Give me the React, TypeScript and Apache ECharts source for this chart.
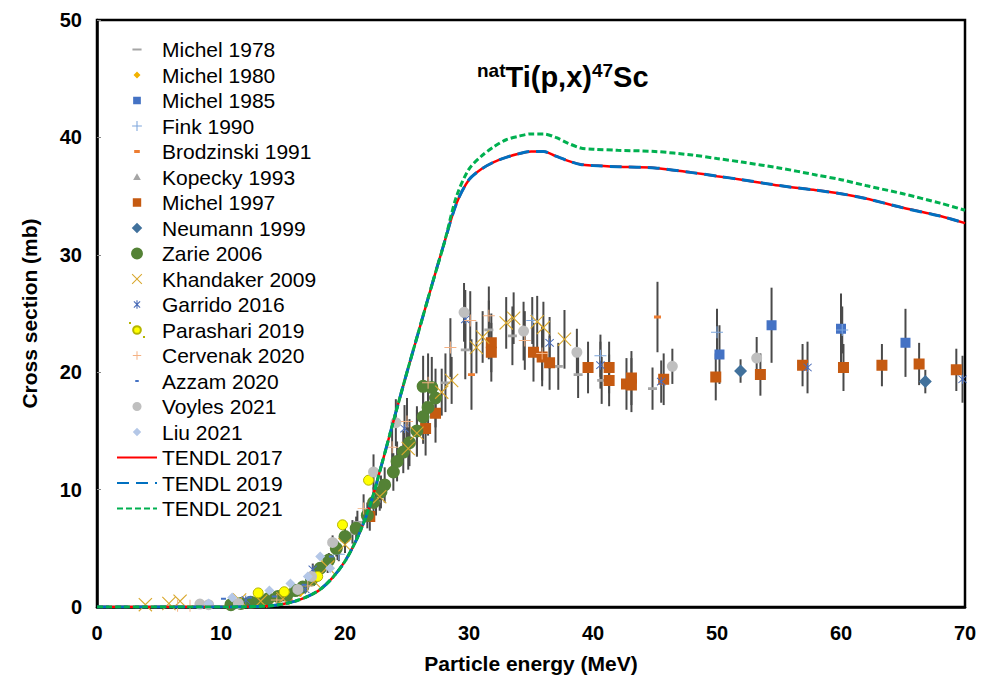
import React, { useEffect, useRef } from "react";
import * as echarts from "echarts";

const FONT = '"Liberation Sans", Arial, Helvetica, sans-serif';

// ---- Data: [energy MeV, cross section mb, error mb] ----
const michel1978 = [[21.0, 7.2, 1.0], [22.5, 9.0, 1.2], [28.1, 19.1, 2.5], [29.7, 21.9, 2.5], [31.6, 23.6, 2.5], [33.5, 23.1, 2.5], [37.2, 20.5, 2.0], [38.8, 19.8, 2.0], [40.7, 19.3, 2.0], [44.8, 18.6, 1.8]];
const michel1980 = [[12.6, 0.5, 0.2], [14.2, 0.7, 0.2], [15.3, 0.85, 0.3], [16.4, 1.2, 0.3]];
const michel1985 = [[50.2, 21.5, 2.5], [54.4, 24.0, 3.2], [60.0, 23.7, 3.0], [65.2, 22.5, 2.9]];
const fink1990 = [[19.5, 4.5, 0.6], [35.1, 24.4, 2.0], [40.6, 21.4, 1.8], [50.0, 23.4, 2.0], [60.1, 23.6, 2.0]];
const brodzinski1991 = [[15.5, 0.6, 0.2], [30.2, 19.8, 3.0], [45.2, 24.7, 3.0]];
const kopecky1993 = [[17.8, 2.8, 0.5], [19.4, 4.8, 0.8], [20.6, 6.4, 1.0]];
const michel1997 = [[22.0, 7.7, 1.2], [26.5, 15.2, 2.3], [27.3, 16.5, 2.5], [31.8, 22.5, 2.5], [31.8, 21.7, 2.5], [35.2, 21.7, 2.5], [35.9, 21.3, 2.5], [36.5, 20.8, 2.3], [39.6, 20.4, 2.2], [41.3, 20.4, 2.2], [41.3, 19.3, 2.2], [42.7, 19.0, 2.2], [43.1, 19.5, 2.3], [43.1, 18.9, 2.3], [45.7, 19.4, 2.2], [49.9, 19.6, 2.0], [53.5, 19.8, 1.8], [56.9, 20.6, 1.8], [60.2, 20.4, 2.0], [63.3, 20.6, 1.8], [66.3, 20.7, 1.8], [69.3, 20.2, 1.8]];
const neumann1999 = [[51.9, 20.1, 1.0], [66.8, 19.2, 1.0]];
const zarie2006 = [[10.8, 0.2, 0], [11.6, 0.3, 0], [12.4, 0.4, 0.1], [13.1, 0.5, 0.1], [13.8, 0.7, 0.2], [14.6, 0.9, 0.2], [15.3, 1.0, 0.2], [16.0, 1.4, 0.3], [16.6, 1.7, 0.3], [17.3, 2.3, 0.4], [18.0, 3.3, 0.5], [18.7, 4.0, 0.6], [19.3, 5.0, 0.7], [20.0, 6.0, 0.8], [20.9, 6.7, 1.0], [21.8, 7.8, 1.1], [22.3, 8.9, 1.3], [22.9, 9.8, 1.4], [23.2, 10.4, 1.5], [23.9, 11.5, 1.6], [24.2, 12.4, 1.7], [24.7, 13.2, 1.8], [25.2, 14.0, 2.0], [25.8, 15.0, 2.1], [26.3, 16.2, 2.3], [26.7, 17.0, 2.4], [26.3, 18.8, 2.6], [27.0, 18.7, 2.6], [27.3, 17.8, 2.5]];
const khandaker2009 = [[3.9, 0.2, 0], [5.8, 0.3, 0], [6.7, 0.5, 0], [11.5, 0.6, 0.1], [13.2, 0.5, 0.1], [15.0, 0.7, 0.2], [17.5, 2.2, 0.4], [18.6, 3.4, 0.5], [20.0, 5.3, 0.7], [22.8, 9.4, 1.2], [25.1, 13.5, 1.8], [25.8, 14.8, 2.0], [27.8, 18.3, 2.0], [28.6, 19.3, 2.0], [30.6, 22.1, 2.2], [31.1, 23.0, 2.2], [33.0, 24.2, 2.2], [33.6, 24.6, 2.2], [35.5, 24.3, 2.2], [36.0, 23.8, 2.2], [37.7, 22.8, 2.5]];
const garrido2016 = [[12.0, 0.6, 0.2], [16.8, 1.5, 0.3], [17.4, 3.2, 0.5], [24.8, 15.2, 2.0], [29.7, 24.5, 2.5], [36.5, 22.5, 2.2], [40.6, 20.6, 2.0], [45.5, 19.2, 1.8], [57.3, 20.4, 2.2], [69.8, 19.4, 2.0]];
const parashari2019 = [[13.0, 1.2, 0], [15.1, 1.3, 0], [17.8, 2.6, 0], [19.8, 7.0, 0], [21.9, 10.8, 0]];
const cervenak2020 = [[6.5, 0.1, 0], [7.5, 0.1, 0], [14.5, 0.6, 0.1], [17.0, 1.8, 0.3], [21.5, 8.4, 1.2], [23.8, 13.6, 1.8], [25.0, 15.8, 2.0], [26.7, 19.1, 2.5], [28.5, 22.1, 2.5], [30.1, 24.4, 2.5], [31.6, 24.8, 2.5], [34.5, 22.7, 2.5], [35.9, 21.6, 2.3]];
const azzam2020 = [[10.2, 0.7, 0], [12.3, 0.8, 0], [14.3, 0.9, 0], [16.7, 1.9, 0], [18.9, 4.3, 0]];
const voyles2021 = [[8.3, 0.25, 0], [9.0, 0.2, 0], [11.4, 0.3, 0], [16.2, 1.5, 0.2], [17.3, 2.6, 0.3], [19.0, 5.5, 0.6], [22.3, 11.5, 1.5], [24.1, 15.7, 2.0], [29.6, 25.1, 2.5], [34.4, 23.5, 2.5], [38.7, 21.7, 2.0], [46.4, 20.5, 1.5], [53.2, 21.2, 1.8]];
const liu2021 = [[9.0, 0.3, 0], [10.9, 0.8, 0], [13.9, 1.4, 0], [15.6, 2.0, 0], [17.0, 2.6, 0], [18.0, 4.3, 0], [18.8, 3.3, 0]];

const tendlEnergy = [0, 2, 4, 6, 8, 10, 12, 13, 14, 15, 16, 17, 18, 19, 20, 21, 22, 23, 24, 25, 26, 27, 28, 29, 30, 31, 32, 33, 34, 35, 36, 37, 38, 39, 40, 42, 45, 48, 50, 52, 55, 58, 60, 62, 65, 68, 70];
const tendl2017 = [0, 0, 0, 0, 0, 0, 0.02, 0.05, 0.1, 0.25, 0.5, 0.9, 1.5, 2.5, 3.9, 5.9, 8.6, 12.3, 16.2, 20.0, 23.7, 27.4, 31.0, 34.4, 36.4, 37.3, 37.9, 38.3, 38.6, 38.8, 38.8, 38.4, 38.0, 37.7, 37.6, 37.5, 37.4, 37.0, 36.7, 36.4, 35.9, 35.5, 35.2, 34.8, 34.0, 33.3, 32.7];
const tendl2019 = [0, 0, 0, 0, 0, 0, 0.02, 0.05, 0.1, 0.25, 0.5, 0.9, 1.5, 2.5, 3.9, 5.9, 8.6, 12.3, 16.2, 20.0, 23.7, 27.4, 31.0, 34.4, 36.4, 37.3, 37.9, 38.3, 38.6, 38.8, 38.8, 38.4, 38.0, 37.7, 37.6, 37.5, 37.4, 37.0, 36.7, 36.4, 35.9, 35.5, 35.2, 34.8, 34.0, 33.3, 32.7];
const tendl2021 = [0, 0, 0, 0, 0, 0, 0.02, 0.05, 0.1, 0.25, 0.5, 0.9, 1.5, 2.5, 3.9, 5.9, 8.6, 12.3, 16.2, 20.0, 23.7, 27.4, 31.0, 35.0, 37.3, 38.4, 39.2, 39.8, 40.1, 40.3, 40.3, 40.0, 39.5, 39.1, 39.0, 38.9, 38.8, 38.5, 38.2, 37.9, 37.4, 36.8, 36.4, 35.9, 35.2, 34.4, 33.8];

const xTicks = { min: 0, max: 70, interval: 10 };
const yTicks = { min: 0, max: 50, interval: 10 };

// ---- symbols (20x20 unit box, with tiny corner specks to pin the box) ----
const SPECK = "M0,0h0.01v0.01h-0.01zM19.99,19.99h0.01v0.01h-0.01z";
function shape(kind: string, u: number, t = 1.6): string {
  const c = 10;
  const h = u / 2;
  let d = "";
  if (kind === "square") d = `M${c - h},${c - h}h${u}v${u}h${-u}z`;
  else if (kind === "diamond") d = `M${c},${c - h}L${c + h},${c}L${c},${c + h}L${c - h},${c}Z`;
  else if (kind === "triangle") d = `M${c},${c - h}L${c + h},${c + h * 0.8}L${c - h},${c + h * 0.8}Z`;
  else if (kind === "circle") d = `M${c - h},${c}A${h},${h} 0 1,0 ${c + h},${c}A${h},${h} 0 1,0 ${c - h},${c}Z`;
  else if (kind === "dash") d = `M${c - h},${c - t / 2}h${u}v${t}h${-u}z`;
  else if (kind === "plus") {
    const a = t / 2;
    d = `M${c - a},${c - h}H${c + a}V${c - a}H${c + h}V${c + a}H${c + a}V${c + h}H${c - a}V${c + a}H${c - h}V${c - a}H${c - a}Z`;
  } else if (kind === "x" || kind === "star") {
    const e = t * 0.707;
    d = `M${c - h},${c - h + e}L${c - h + e},${c - h}L${c},${c - e}L${c + h - e},${c - h}L${c + h},${c - h + e}L${c + e},${c}L${c + h},${c + h - e}L${c + h - e},${c + h}L${c},${c + e}L${c - h + e},${c + h}L${c - h},${c + h - e}L${c - e},${c}Z`;
    if (kind === "star") {
      const a = t / 2;
      d += `M${c - a},${c - h - 1}H${c + a}V${c + h + 1}H${c - a}Z`;
    }
  }
  return "path://" + SPECK + d;
}

const scatterDefs = [
  { name: "Michel 1978", data: michel1978, kind: "dash", color: "#a5a5a5", size: 9, t: 6, lu: 13, lt: 3 },
  { name: "Michel 1980", data: michel1980, kind: "diamond", color: "#f2b200", size: 8, t: 0, lu: 10, lt: 0 },
  { name: "Michel 1985", data: michel1985, kind: "square", color: "#4472c4", size: 10, t: 0, lu: 11, lt: 0 },
  { name: "Fink 1990", data: fink1990, kind: "plus", color: "#7ea6dc", size: 12, t: 1.8, lu: 14, lt: 1.5 },
  { name: "Brodzinski 1991", data: brodzinski1991, kind: "dash", color: "#ed7d31", size: 7, t: 8, lu: 8, lt: 4 },
  { name: "Kopecky 1993", data: kopecky1993, kind: "triangle", color: "#a5a5a5", size: 8, t: 0, lu: 11, lt: 0 },
  { name: "Michel 1997", data: michel1997, kind: "square", color: "#c55a11", size: 11, t: 0, lu: 12, lt: 0 },
  { name: "Neumann 1999", data: neumann1999, kind: "diamond", color: "#41719c", size: 13, t: 0, lu: 15, lt: 0 },
  { name: "Zarie 2006", data: zarie2006, kind: "circle", color: "#548235", size: 13, t: 0, lu: 17, lt: 0 },
  { name: "Khandaker 2009", data: khandaker2009, kind: "x", color: "#d9a82e", size: 14, t: 1.6, lu: 15, lt: 1.5 },
  { name: "Garrido 2016", data: garrido2016, kind: "star", color: "#4a6cb8", size: 9, t: 2.2, lu: 10, lt: 1.6 },
  { name: "Parashari 2019", data: parashari2019, kind: "circle", color: "#ffff00", size: 10, t: 0, lu: 11, lt: 0, border: "#b5b500" },
  { name: "Cervenak 2020", data: cervenak2020, kind: "plus", color: "#f4b183", size: 12, t: 1.6, lu: 12, lt: 1.4 },
  { name: "Azzam 2020", data: azzam2020, kind: "dash", color: "#4472c4", size: 5, t: 8, lu: 5, lt: 3 },
  { name: "Voyles 2021", data: voyles2021, kind: "circle", color: "#bfbfbf", size: 11, t: 0, lu: 13, lt: 0 },
  { name: "Liu 2021", data: liu2021, kind: "diamond", color: "#b4c7e7", size: 10, t: 0, lu: 12, lt: 0 },
];

const lineDefs = [
  { name: "TENDL 2017", values: tendl2017, color: "#ff0000", type: "solid" as any, width: 2.5 },
  { name: "TENDL 2019", values: tendl2019, color: "#0070c0", type: [12, 7] as any, width: 3 },
  { name: "TENDL 2021", values: tendl2021, color: "#00b050", type: [6, 3] as any, width: 3 },
];

export default function App() {
  const ref = useRef<HTMLDivElement>(null);
  useEffect(() => {
    if (!ref.current) return;
    const chart = echarts.init(ref.current, null, { renderer: "svg" });

    const errData: number[][] = [];
    scatterDefs.forEach((s) =>
      s.data.forEach((p) => {
        if (p[2] > 0) errData.push([p[0], p[1] - p[2], p[1] + p[2]]);
      })
    );

    const series: any[] = [
      {
        type: "custom",
        name: "errors",
        silent: true,
        z: 1,
        data: errData,
        encode: { x: 0, y: [1, 2] },
        renderItem: (_params: any, api: any) => {
          const a = api.coord([api.value(0), api.value(1)]);
          const b = api.coord([api.value(0), api.value(2)]);
          return {
            type: "line",
            shape: { x1: a[0], y1: a[1], x2: b[0], y2: b[1] },
            style: { stroke: "#4a4a4a", lineWidth: 2 },
          };
        },
      },
      ...scatterDefs.map((s) => ({
        type: "scatter",
        name: s.name,
        z: 2,
        symbol: shape(s.kind, 20, s.t),
        symbolSize: s.size,
        data: s.data.map((p) => [p[0], p[1]]),
        itemStyle: {
          color: s.color,
          opacity: 1,
          borderColor: (s as any).border || undefined,
          borderWidth: (s as any).border ? 1 : 0,
        },
      })),
      ...lineDefs.map((l, i) => ({
        type: "line",
        name: l.name,
        z: 3 + i,
        showSymbol: false,
        symbol: "none",
        smooth: 0.3,
        data: tendlEnergy.map((e, k) => [e, l.values[k]]),
        lineStyle: { color: l.color, width: l.width, type: l.type },
        itemStyle: { color: "rgba(0,0,0,0)", opacity: 0 },
      })),
    ];

    const legendData = [
      ...scatterDefs.map((s) => ({ name: s.name, icon: shape(s.kind, s.lu, s.lt) })),
      ...lineDefs.map((l) => ({ name: l.name, itemStyle: { opacity: 0, color: "rgba(0,0,0,0)", borderWidth: 0 } })),
    ];

    chart.setOption({
      animation: false,
      backgroundColor: "#ffffff",
      textStyle: { fontFamily: FONT },
      title: {
        text: "{s|nat}{m|Ti(p,x)}{s|47}{m|Sc}",
        left: 472,
        top: 56,
        textStyle: {
          rich: {
            s: { fontSize: 19, fontWeight: "bold", fontFamily: FONT, color: "#000", verticalAlign: "top", lineHeight: 20 },
            m: { fontSize: 29, fontWeight: "bold", fontFamily: FONT, color: "#000", lineHeight: 32 },
          },
        },
      },
      legend: {
        orient: "vertical",
        left: 111,
        top: 34,
        itemWidth: 40,
        itemHeight: 14,
        itemGap: 4.5,
        data: legendData,
        textStyle: { fontSize: 21, fontFamily: FONT, color: "#000", lineHeight: 21 },
      },
      grid: {
        left: 97,
        right: 24,
        top: 20,
        bottom: 73,
        show: true,
        borderColor: "#000",
        borderWidth: 2.5,
        backgroundColor: "transparent",
      },
      xAxis: {
        type: "value",
        min: xTicks.min,
        max: xTicks.max,
        interval: xTicks.interval,
        name: "Particle energy (MeV)",
        nameLocation: "middle",
        nameGap: 46,
        nameTextStyle: { fontSize: 21, fontWeight: "bold", color: "#000", fontFamily: FONT },
        axisLine: { lineStyle: { color: "#000", width: 2.5 } },
        axisTick: { show: false },
        splitLine: { show: false },
        axisLabel: { fontSize: 20, fontWeight: "bold", color: "#000", margin: 16, fontFamily: FONT },
      },
      yAxis: {
        type: "value",
        min: yTicks.min,
        max: yTicks.max,
        interval: yTicks.interval,
        name: "Cross section (mb)",
        nameLocation: "middle",
        nameGap: 57,
        nameTextStyle: { fontSize: 21, fontWeight: "bold", color: "#000", fontFamily: FONT },
        axisLine: { show: true, lineStyle: { color: "#000", width: 2.5 } },
        axisTick: { show: true, inside: true, length: 4, lineStyle: { color: "#888", width: 1 } },
        splitLine: { show: false },
        axisLabel: { fontSize: 20, fontWeight: "bold", color: "#000", margin: 15, fontFamily: FONT },
      },
      series,
    });
    return () => chart.dispose();
  }, []);
  return (
    <div
      ref={ref}
      style={{ position: "fixed", left: 0, top: 0, width: 989, height: 680 }}
    />
  );
}
